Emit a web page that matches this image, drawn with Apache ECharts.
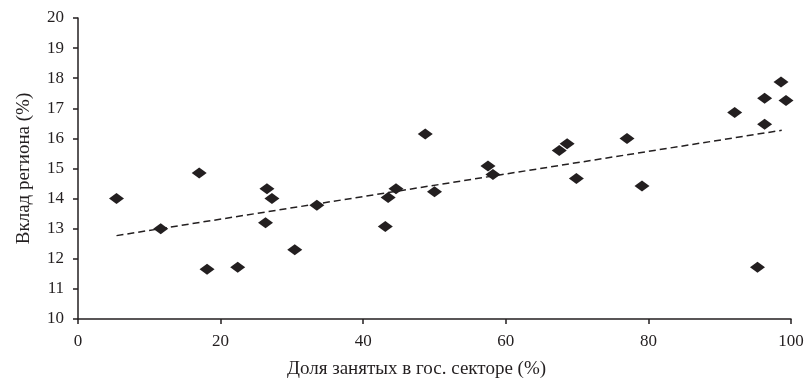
<!DOCTYPE html>
<html>
<head>
<meta charset="utf-8">
<script src="https://cdn.jsdelivr.net/npm/echarts@6/dist/echarts.min.js"></script>
<style>
html,body{margin:0;padding:0;background:#fff;}
#chart{width:807px;height:381px;}
</style>
</head>
<body>
<div id="chart"></div>
<script>
// points: share employed in public sector vs region contribution
var xVals=[5.4,11.6,17.0,18.1,22.4,26.3,26.5,27.2,30.4,33.5,43.1,43.5,44.6,48.7,50.0,57.5,58.2,67.5,68.6,69.9,77.0,79.1,92.1,95.3,96.3,96.3,98.6,99.3];
var yVals=[14.0,13.0,14.85,11.65,11.72,13.2,14.33,14.0,12.3,13.78,13.07,14.04,14.33,16.15,14.23,15.08,14.8,15.6,15.82,14.67,16.0,14.42,16.86,11.72,17.33,16.47,17.87,17.26];
var trendX=[5.4,98.7];
var trendY=[12.77,16.27];

var font="Liberation Serif";
var chart=echarts.init(document.getElementById("chart"));

var option={
	animation:false,
	backgroundColor:"#fff",
	grid:{left:78,right:16,top:18,bottom:62,containLabel:false,outerBoundsMode:"none"},
	xAxis:{
		type:"value",
		min:0,max:100,interval:20,
		name:"Доля занятых в гос. секторе (%)",
		nameLocation:"middle",
		nameGap:41,
		nameTextStyle:{fontFamily:font,fontSize:19,color:"#231f20",padding:[0,36,0,0]},
		axisLine:{show:true,lineStyle:{color:"#231f20",width:1.5}},
		axisTick:{show:true,length:5,lineStyle:{color:"#231f20",width:1.5}},
		axisLabel:{fontFamily:font,fontSize:17,color:"#231f20",margin:14},
		splitLine:{show:false}
	},
	yAxis:{
		type:"value",
		min:10,max:20,interval:1,
		name:"Вклад региона (%)",
		nameLocation:"middle",
		nameGap:44,
		nameTextStyle:{fontFamily:font,fontSize:19,color:"#231f20"},
		axisLine:{show:true,lineStyle:{color:"#231f20",width:1.5}},
		axisTick:{show:true,length:5,lineStyle:{color:"#231f20",width:1.5}},
		axisLabel:{fontFamily:font,fontSize:17,color:"#231f20",margin:14},
		splitLine:{show:false}
	},
	series:[
		{
			type:"line",
			data:trendX.map((x,i)=>[x,trendY[i]]),
			symbol:"none",
			lineStyle:{color:"#231f20",width:1.5,type:[7,4]},
			z:1
		},
		{
			type:"scatter",
			data:xVals.map((x,i)=>[x,yVals[i]]),
			symbol:"diamond",
			symbolSize:[15,11],
			itemStyle:{color:"#231f20",opacity:1},
			z:2
		}
	]
};
chart.setOption(option);
</script>
</body>
</html>
